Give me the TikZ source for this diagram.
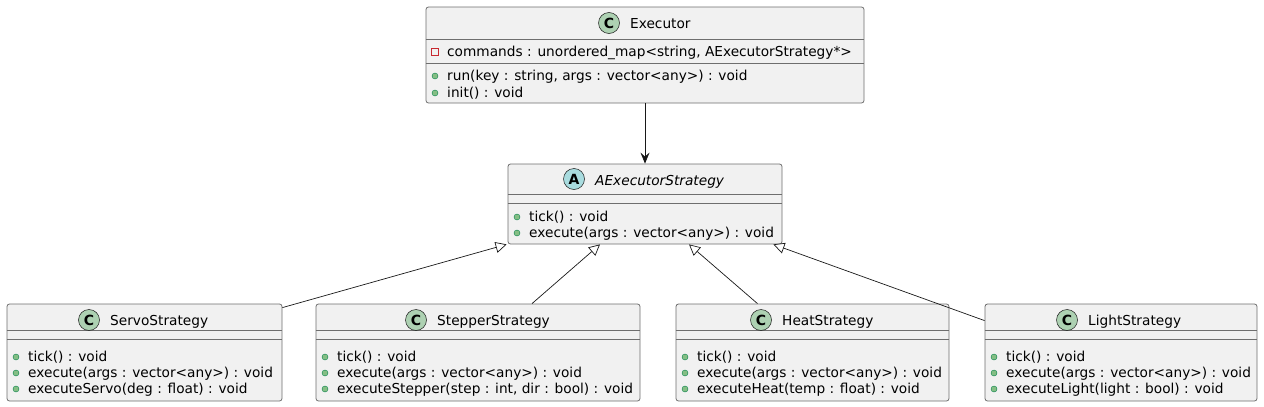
\documentclass[tikz,border=0pt]{standalone}
\usepackage{fontspec}
\setmainfont{DejaVu Sans}
\usetikzlibrary{arrows.meta,calc}
\definecolor{boxfill}{HTML}{F1F1F1}
\definecolor{boxline}{HTML}{181818}
\definecolor{boxedge}{HTML}{6E6E6E}
\definecolor{cicon}{HTML}{ADD1B2}
\definecolor{aicon}{HTML}{A9DCDF}
\definecolor{pubfill}{HTML}{84BE84}
\definecolor{publine}{HTML}{038048}
\definecolor{privline}{HTML}{C82930}
\tikzset{
  box/.style={draw=boxedge, fill=boxfill, line width=0.8pt, rounded corners=2.5pt, inner sep=0pt},
  sepline/.style={draw=boxedge, line width=0.8pt},
  txt/.style={anchor=base west, inner sep=0pt, font=\fontsize{13.7}{16}\selectfont},
  ttl/.style={anchor=base west, inner sep=0pt, font=\fontsize{13.7}{16}\selectfont},
  ticon/.style={circle, draw=boxline, line width=0.5pt, minimum size=21pt, inner sep=0pt, font=\fontsize{14}{16}\selectfont\bfseries},
  pub/.style={circle, draw=publine, fill=pubfill, line width=0.4pt, minimum size=6pt, inner sep=0pt},
  priv/.style={rectangle, draw=privline, line width=0.6pt, minimum size=6.5pt, inner sep=0pt},
  conn/.style={draw=boxline, line width=0.7pt},
  inherit/.style={conn, -{Triangle[open, length=11pt, width=11pt, fill=white]}},
  uses/.style={conn, -{Stealth[length=11pt, width=9pt, inset=4pt]}},
}
\begin{document}
\begin{tikzpicture}[x=1pt,y=-1pt]
\useasboundingbox (0,0) rectangle (1264,407);

% ---------- Executor ----------
\node[box, minimum width=438pt, minimum height=96pt] (exec) at (645,55) {};
\draw[sepline] (exec.west |- 0,39) -- (exec.east |- 0,39);
\draw[sepline] (exec.west |- 0,63) -- (exec.east |- 0,63);
\node[ticon, fill=cicon] (execicon) at (609,23) {C};
\node[ttl] (exectitle) at (630,28) {Executor};
\node[priv] (execp1) at (435,52) {};
\node[txt] (exect1) at (447,56.5) {commands : unordered\_map<string, AExecutorStrategy*>};
\node[pub] (execb1) at (435,76) {};
\node[txt] (exect2) at (447,80) {run(key : string, args : vector<any>) : void};
\node[pub] (execb2) at (435,93) {};
\node[txt] (exect3) at (447,97) {init() : void};

% ---------- AExecutorStrategy ----------
\node[box, minimum width=274pt, minimum height=80pt] (aes) at (645,204) {};
\draw[sepline] (aes.west |- 0,194) -- (aes.east |- 0,194);
\draw[sepline] (aes.west |- 0,203) -- (aes.east |- 0,203);
\node[ticon, fill=aicon] (aesicon) at (574,179) {A};
\node[ttl, font=\fontsize{13.7}{16}\selectfont\itshape] (aestitle) at (595,185) {AExecutorStrategy};
\node[pub] (aesb1) at (517,217) {};
\node[txt] (aest1) at (529,221) {tick() : void};
\node[pub] (aesb2) at (517,233) {};
\node[txt] (aest2) at (529,237) {execute(args : vector<any>) : void};

% ---------- ServoStrategy ----------
\node[box, minimum width=275pt, minimum height=97pt] (servo) at (144.5,352.5) {};
\draw[sepline] (servo.west |- 0,330) -- (servo.east |- 0,330);
\draw[sepline] (servo.west |- 0,339) -- (servo.east |- 0,339);
\node[ticon, fill=cicon] (servoicon) at (89,320) {C};
\node[ttl] (servotitle) at (110,325) {ServoStrategy};
\node[pub] (servob1) at (16,357) {};
\node[txt] (servot1) at (28,361) {tick() : void};
\node[pub] (servob2) at (16,373) {};
\node[txt] (servot2) at (28,377) {execute(args : vector<any>) : void};
\node[pub] (servob3) at (16,389) {};
\node[txt] (servot3) at (28,393) {executeServo(deg : float) : void};

% ---------- StepperStrategy ----------
\node[box, minimum width=324pt, minimum height=97pt] (stepper) at (478,352.5) {};
\draw[sepline] (stepper.west |- 0,330) -- (stepper.east |- 0,330);
\draw[sepline] (stepper.west |- 0,339) -- (stepper.east |- 0,339);
\node[ticon, fill=cicon] (steppericon) at (416,320) {C};
\node[ttl] (steppertitle) at (437,325) {StepperStrategy};
\node[pub] (stepperb1) at (325,357) {};
\node[txt] (steppert1) at (337,361) {tick() : void};
\node[pub] (stepperb2) at (325,373) {};
\node[txt] (steppert2) at (337,377) {execute(args : vector<any>) : void};
\node[pub] (stepperb3) at (325,389) {};
\node[txt] (steppert3) at (337,393) {executeStepper(step : int, dir : bool) : void};

% ---------- HeatStrategy ----------
\node[box, minimum width=273pt, minimum height=97pt] (heat) at (812.5,352.5) {};
\draw[sepline] (heat.west |- 0,330) -- (heat.east |- 0,330);
\draw[sepline] (heat.west |- 0,339) -- (heat.east |- 0,339);
\node[ticon, fill=cicon] (heaticon) at (761,320) {C};
\node[ttl] (heattitle) at (782,325) {HeatStrategy};
\node[pub] (heatb1) at (685,357) {};
\node[txt] (heatt1) at (697,361) {tick() : void};
\node[pub] (heatb2) at (685,373) {};
\node[txt] (heatt2) at (697,377) {execute(args : vector<any>) : void};
\node[pub] (heatb3) at (685,389) {};
\node[txt] (heatt3) at (697,393) {executeHeat(temp : float) : void};

% ---------- LightStrategy ----------
\node[box, minimum width=272pt, minimum height=97pt] (light) at (1121,352.5) {};
\draw[sepline] (light.west |- 0,330) -- (light.east |- 0,330);
\draw[sepline] (light.west |- 0,339) -- (light.east |- 0,339);
\node[ticon, fill=cicon] (lighticon) at (1067,320) {C};
\node[ttl] (lighttitle) at (1088,325) {LightStrategy};
\node[pub] (lightb1) at (994,357) {};
\node[txt] (lightt1) at (1006,361) {tick() : void};
\node[pub] (lightb2) at (994,373) {};
\node[txt] (lightt2) at (1006,377) {execute(args : vector<any>) : void};
\node[pub] (lightb3) at (994,389) {};
\node[txt] (lightt3) at (1006,393) {executeLight(light : bool) : void};

% ---------- connectors ----------
\draw[uses] (exec.south) -- (aes.north);
\draw[inherit] ($(servo.north east)+(0,4)$) -- ($(aes.south west)+(-1,0)$);
\draw[inherit] ($(stepper.north)+(54,0)$) -- ($(aes.south)+(-45,0)$);
\draw[inherit] ($(heat.north)+(-55,0)$) -- ($(aes.south)+(44,0)$);
\draw[inherit] ($(light.north west)+(0,17)$) -- ($(aes.south east)+(-9,0)$);
\end{tikzpicture}
\end{document}
